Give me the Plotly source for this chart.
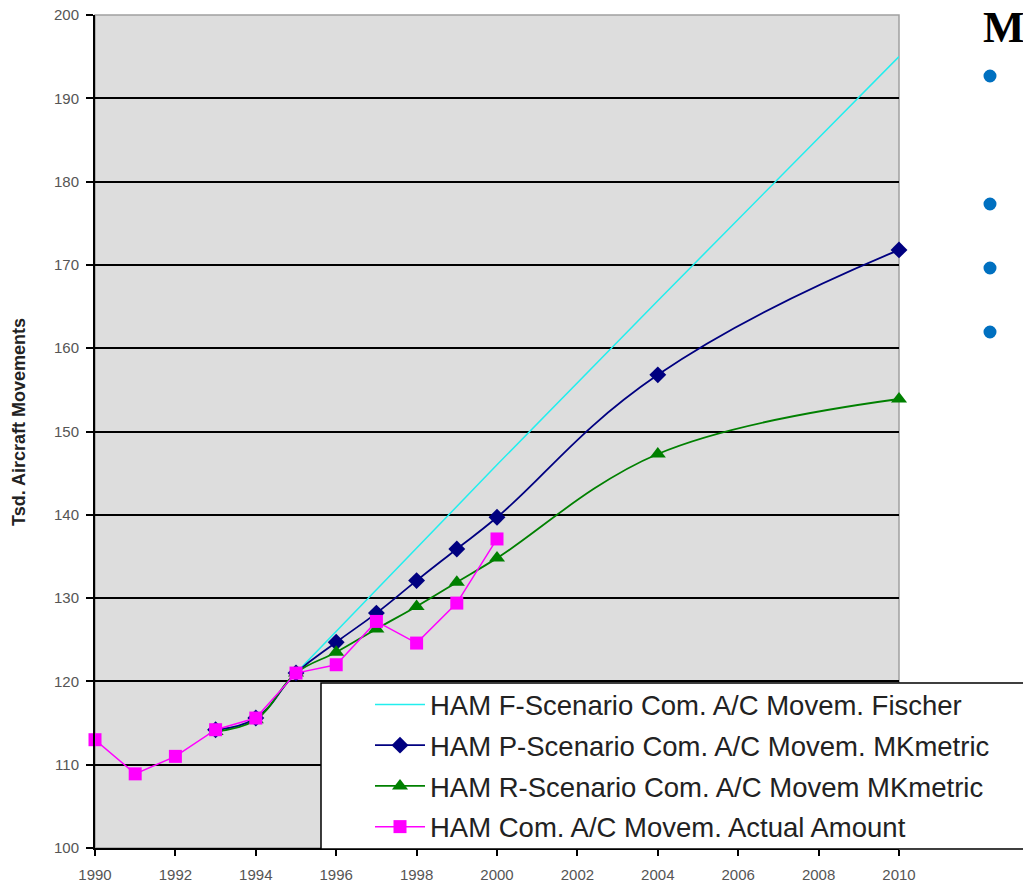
import plotly.graph_objects as go

# ---- data ----
years_actual = [1990, 1991, 1992, 1993, 1994, 1995, 1996, 1997, 1998, 1999, 2000]
actual = [113.0, 108.9, 111.0, 114.2, 115.6, 121.0, 122.0, 127.2, 124.6, 129.4, 137.1]

years_p = [1993, 1994, 1995, 1996, 1997, 1998, 1999, 2000, 2004, 2010]
p_scen = [114.2, 115.6, 121.0, 124.7, 128.2, 132.1, 135.9, 139.7, 156.8, 171.8]

years_r = [1993, 1994, 1995, 1996, 1997, 1998, 1999, 2000, 2004, 2010]
r_scen = [114.0, 115.4, 121.0, 123.5, 126.3, 129.0, 131.9, 134.8, 147.3, 153.9]

years_f = [1995, 2000, 2004, 2010]
f_scen = [121.0, 146.0, 165.7, 195.0]

names = [
    "HAM F-Scenario Com. A/C Movem. Fischer",
    "HAM P-Scenario Com. A/C Movem. MKmetric",
    "HAM R-Scenario Com. A/C Movem MKmetric",
    "HAM Com. A/C Movem. Actual Amount",
]

# ---- layout helpers (screen pixel -> paper); page body offsets figure by 8px ----
OFF = 8
W, H = 1031, 882
PL, PR, PT, PB = 95, 899, 15, 848          # plot area in screen pixels
L, T = PL - OFF, PT - OFF
R, B = W - (PR - OFF), H - (PB - OFF)
PW, PH = PR - PL, PB - PT


def px(xs):
    return (xs - PL) / PW


def py(ys):
    return (PB - ys) / PH


fig = go.Figure()
fig.add_trace(go.Scatter(x=years_f, y=f_scen, mode="lines", name=names[0],
                         line=dict(color="#22EEEE", width=1.5), legendgroup="a",
                         cliponaxis=False))
fig.add_trace(go.Scatter(x=years_p, y=p_scen, mode="lines+markers", name=names[1],
                         line=dict(color="#000080", width=1.8, shape="spline", smoothing=1.3),
                         marker=dict(symbol="diamond", size=13, color="#000080"), legendgroup="b",
                         cliponaxis=False))
fig.add_trace(go.Scatter(x=years_r, y=r_scen, mode="lines+markers", name=names[2],
                         line=dict(color="#008000", width=1.8, shape="spline", smoothing=1.1),
                         marker=dict(symbol="triangle-up", size=14, color="#008000"), legendgroup="c",
                         cliponaxis=False))
fig.add_trace(go.Scatter(x=years_actual, y=actual, mode="lines+markers", name=names[3],
                         line=dict(color="#FF00FF", width=1.5),
                         marker=dict(symbol="square", size=13, color="#FF00FF"), legendgroup="d",
                         cliponaxis=False))

tickfont = dict(family="Liberation Sans, Arial", size=15, color="#555555")

shapes = [
    # plot-area light border (top/right)
    dict(type="rect", xref="paper", yref="paper", x0=0, x1=1, y0=0, y1=1,
         line=dict(color="#A0A0A0", width=1.5), layer="below"),
    # legend box
    dict(type="rect", xref="paper", yref="paper", x0=px(321), x1=px(1045), y0=py(849), y1=py(683),
         fillcolor="white", line=dict(color="black", width=1.5), layer="above"),
]
for by in [76, 204, 268, 332]:
    shapes.append(dict(type="circle", xref="paper", yref="paper",
                       x0=px(990 - 6.5), x1=px(990 + 6.5), y0=py(by + 6.5), y1=py(by - 6.5),
                       fillcolor="#0070C0", line=dict(width=0), layer="above"))

fig.update_layout(
    width=W, height=H,
    margin=dict(l=L, r=R, t=T, b=B, autoexpand=False),
    paper_bgcolor="white",
    plot_bgcolor="#DDDDDD",
    font=dict(family="Liberation Sans, Arial", color="#222222"),
    showlegend=True,
    legend=dict(x=px(370), y=py(680), xanchor="left", yanchor="top",
                bgcolor="rgba(0,0,0,0)", borderwidth=0,
                font=dict(family="Liberation Sans, Arial", size=27.5, color="#222222"),
                tracegroupgap=2, itemwidth=50, traceorder="grouped"),
    xaxis=dict(range=[1990, 2010], dtick=2, tick0=1990, showgrid=False, zeroline=False,
               showline=True, linecolor="black", linewidth=2, ticks="outside", ticklen=6,
               tickcolor="black", tickwidth=1.5, tickfont=tickfont, ticklabelstandoff=6,
               ticklabeloverflow="allow"),
    yaxis=dict(range=[100, 200], dtick=10, tick0=100, showgrid=True, gridcolor="black",
               gridwidth=1.5, zeroline=False, showline=True, linecolor="black", linewidth=2,
               ticks="outside", ticklen=7, tickcolor="black", tickwidth=1.5,
               tickfont=tickfont, ticklabelstandoff=4, ticklabeloverflow="allow"),
    shapes=shapes,
    annotations=[
        dict(text="<b>Tsd. Aircraft Movements</b>", xref="paper", yref="paper",
             x=px(19), y=py(422), xanchor="center", yanchor="middle", textangle=-90,
             showarrow=False, font=dict(family="Liberation Sans, Arial", size=18, color="#222222")),
        dict(text="<b>M</b>", xref="paper", yref="paper", x=px(981), y=py(1),
             xanchor="left", yanchor="top", showarrow=False,
             font=dict(family="Liberation Serif, Times New Roman", size=44, color="black")),
    ],
)

fig.write_html("out.html")
